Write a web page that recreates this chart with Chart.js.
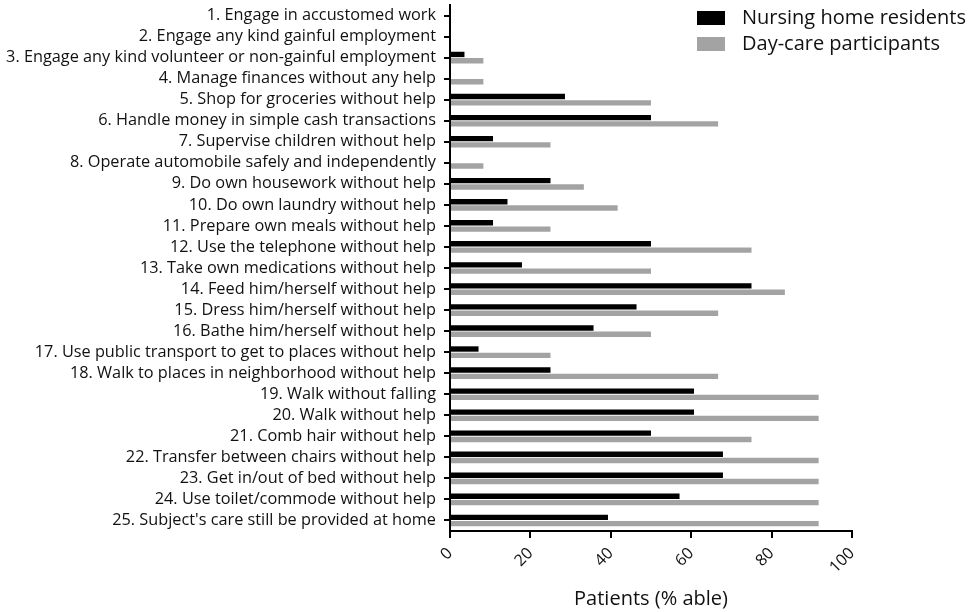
<!DOCTYPE html>
<html>
<head>
<meta charset="utf-8">
<script src="https://cdn.jsdelivr.net/npm/chart.js@4/dist/chart.umd.min.js"></script>
<style>
  html, body { margin: 0; padding: 0; background: #fff; }
  #wrap { width: 974px; height: 612px; }
</style>
</head>
<body>
<div id="wrap"><canvas id="chart" width="974" height="612"></canvas></div>
<script>
// 数据
const categories = [
    '1. Engage in accustomed work',
    '2. Engage any kind gainful employment',
    '3. Engage any kind volunteer or non-gainful employment',
    '4. Manage finances without any help',
    '5. Shop for groceries without help',
    '6. Handle money in simple cash transactions',
    '7. Supervise children without help',
    '8. Operate automobile safely and independently',
    '9. Do own housework without help',
    '10. Do own laundry without help',
    '11. Prepare own meals without help',
    '12. Use the telephone without help',
    '13. Take own medications without help',
    '14. Feed him/herself without help',
    '15. Dress him/herself without help',
    '16. Bathe him/herself without help',
    '17. Use public transport to get to places without help',
    '18. Walk to places in neighborhood without help',
    '19. Walk without falling',
    '20. Walk without help',
    '21. Comb hair without help',
    '22. Transfer between chairs without help',
    '23. Get in/out of bed without help',
    '24. Use toilet/commode without help',
    "25. Subject's care still be provided at home"
];
const nursingHome = [0, 0, 3.6, 0, 28.6, 50, 10.7, 0, 25, 14.3, 10.7, 50, 17.9, 75, 46.4, 35.7, 7.1, 25, 60.7, 60.7, 50, 67.9, 67.9, 57.1, 39.3];
const dayCare = [0, 0, 8.3, 8.3, 50, 66.7, 25, 8.3, 33.3, 41.7, 25, 75, 50, 83.3, 66.7, 50, 25, 66.7, 91.7, 91.7, 75, 91.7, 91.7, 91.7, 91.7];
const xTicks = [0, 20, 40, 60, 80, 100];

const seriesNames = ['Nursing home residents', 'Day-care participants'];
const seriesColors = ['#000000', '#a3a3a3'];
const FONT = "'Open Sans', sans-serif";

// 自定义图例
const legendPlugin = {
    id: 'customLegend',
    afterDraw(chart) {
        const ctx = chart.ctx;
        ctx.save();
        ctx.font = `20px ${FONT}`;
        ctx.textBaseline = 'middle';
        seriesNames.forEach((name, i) => {
            const y = 11 + i * 26;
            ctx.fillStyle = seriesColors[i];
            ctx.fillRect(697, y, 28, 14);
            ctx.fillStyle = '#111';
            ctx.fillText(name, 742, y + 7);
        });
        ctx.restore();
    }
};

new Chart(document.getElementById('chart').getContext('2d'), {
    type: 'bar',
    data: {
        labels: categories,
        datasets: [
            { label: seriesNames[0], data: nursingHome, backgroundColor: seriesColors[0], categoryPercentage: 0.6, barPercentage: 0.85 },
            { label: seriesNames[1], data: dayCare, backgroundColor: seriesColors[1], categoryPercentage: 0.6, barPercentage: 0.85 }
        ]
    },
    options: {
        indexAxis: 'y',
        responsive: false,
        animation: false,
        layout: { padding: { top: 5, right: 122, bottom: 0, left: 0 } },
        plugins: { legend: { display: false }, tooltip: { enabled: false } },
        scales: {
            y: {
                grid: { drawOnChartArea: false, offset: false, color: '#000', lineWidth: 2, tickLength: 6 },
                border: { color: '#000', width: 2 },
                ticks: { color: '#111', font: { family: FONT, size: 16.3 }, padding: 8, autoSkip: false },
                afterFit(scale) {
                    scale.width = 450;
                    scale.paddingTop = 0;
                    scale.paddingBottom = 0;
                }
            },
            x: {
                min: 0,
                max: 100,
                afterBuildTicks(scale) { scale.ticks = xTicks.map(v => ({ value: v })); },
                grid: { drawOnChartArea: false, color: '#000', lineWidth: 2, tickLength: 7 },
                border: { color: '#000', width: 2 },
                ticks: { color: '#111', font: { family: FONT, size: 16 }, minRotation: 45, maxRotation: 45, padding: 6 },
                title: { display: true, text: 'Patients (% able)', color: '#111', font: { family: FONT, size: 20 }, padding: { top: 0, bottom: 1 } },
                afterFit(scale) { scale.height = 81; }
            }
        }
    },
    plugins: [legendPlugin]
});
</script>
</body>
</html>
